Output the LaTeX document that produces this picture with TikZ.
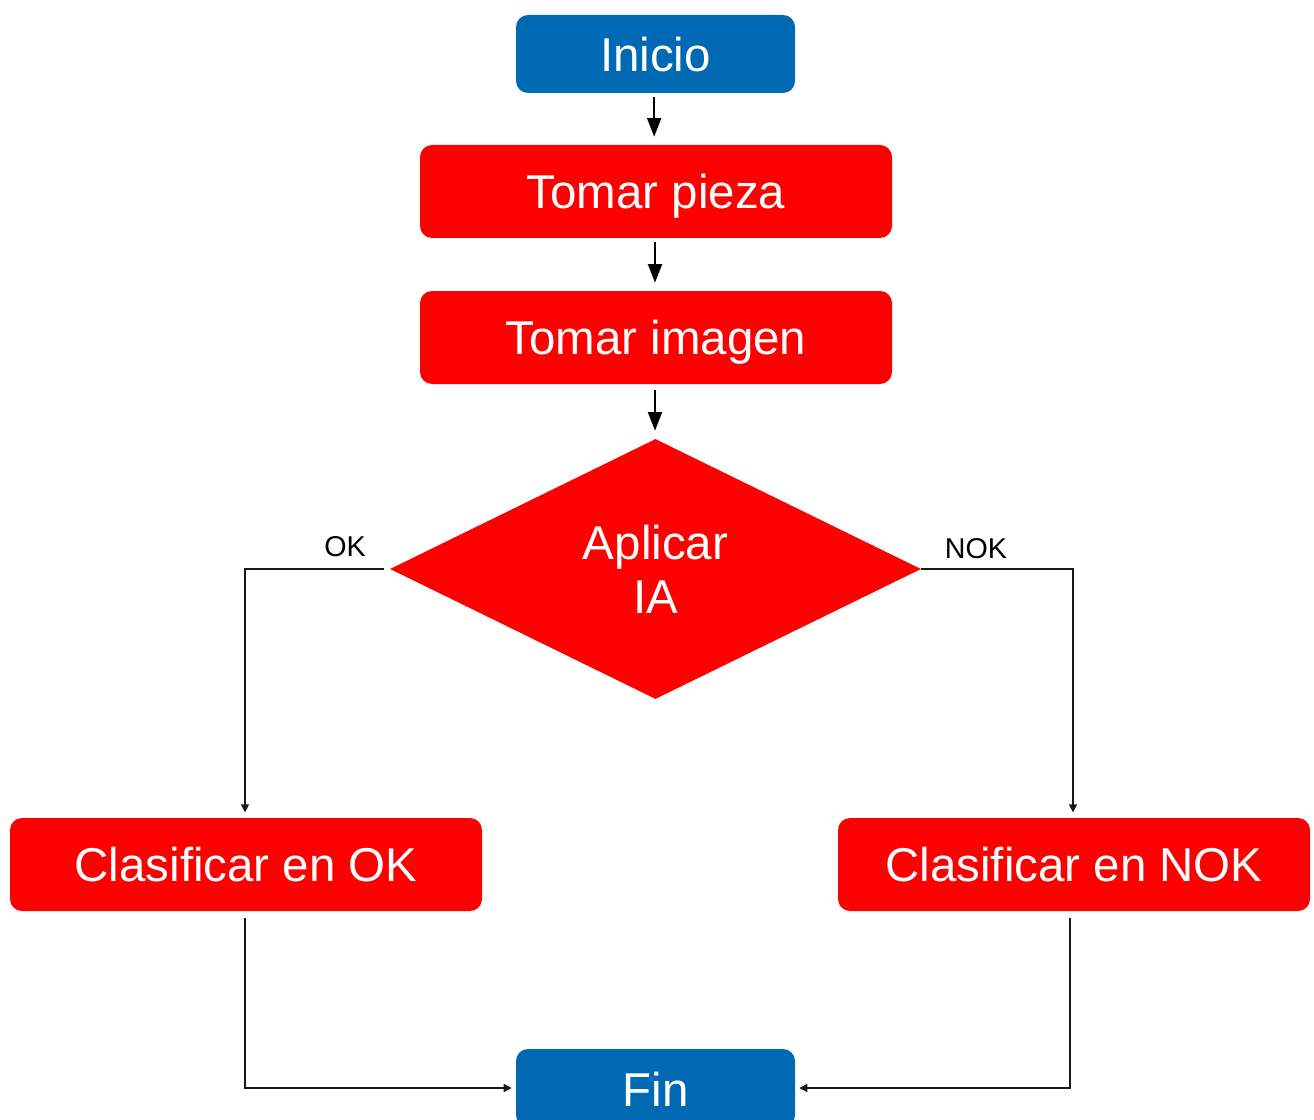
\documentclass[tikz,border=0pt]{standalone}
\usepackage{fontspec}
\setmainfont{Liberation Sans}
\usetikzlibrary{shapes.geometric,arrows.meta}
\definecolor{flowblue}{RGB}{0,105,180}
\definecolor{flowred}{RGB}{255,0,0}
\begin{document}
\begin{tikzpicture}[x=0.75pt,y=-0.75pt,
  bigfont/.style={font=\fontsize{35.6pt}{40.5pt}\selectfont},
  termbox/.style={rectangle,rounded corners=9pt,fill=flowblue,text=white,bigfont,
    minimum width=209.25pt,minimum height=58.5pt,inner sep=0pt,text height=27pt,text depth=0pt},
  procbox/.style={rectangle,rounded corners=9pt,fill=flowred,text=white,bigfont,
    minimum width=354pt,minimum height=69.75pt,inner sep=0pt,text height=25.5pt,text depth=0pt},
  decbox/.style={diamond,fill=flowred,text=white,bigfont,aspect=2.04,
    minimum width=398.25pt,minimum height=195pt,inner sep=0pt,align=center},
  flowarrow/.style={draw=black,line width=1.5pt,-{Triangle[width=10.5pt,length=14pt]}},
  thinarrow/.style={draw=black!90,line width=1pt,-{Triangle[width=6pt,length=6pt]}},
  branchlabel/.style={font=\fontsize{21.5pt}{24pt}\selectfont,text=black,inner sep=0pt}
]
\clip (0,0) rectangle (1314,1120);
\useasboundingbox (0,0) rectangle (1314,1120);
\node[termbox] (inicio) at (655.5,54) {Inicio};
\node[procbox] (pieza) at (656,191.5) {Tomar pieza};
\node[procbox] (imagen) at (656,337.5) {Tomar imagen};
\node[decbox] (ia) at (655.5,569) {Aplicar\\IA};
\node[procbox] (okbox) at (246,864.5) {Clasificar en OK};
\node[procbox] (nokbox) at (1074,864.5) {Clasificar en NOK};
\node[termbox] (fin) at (655.5,1088) {Fin};
\node[branchlabel] (oklabel) at (345,547) {OK};
\node[branchlabel] (noklabel) at (976,549) {NOK};
\draw[flowarrow,shorten <=3pt,shorten >=6pt] ([xshift=-1pt]inicio.south) -- ([xshift=-1pt]inicio.south |- pieza.north);
\draw[flowarrow,shorten <=3pt,shorten >=6pt] ([xshift=-0.75pt]pieza.south) -- ([xshift=-0.75pt]imagen.north);
\draw[flowarrow,shorten <=4pt,shorten >=6pt] ([xshift=-0.75pt]imagen.south) -- ([xshift=-0.75pt]imagen.south |- ia.north);
\draw[thinarrow,shorten <=4pt,shorten >=4pt] (ia.west) -| ([xshift=-0.75pt]okbox.north);
\draw[thinarrow,shorten <=0pt,shorten >=4pt] (ia.east) -| ([xshift=-0.75pt]nokbox.north);
\draw[thinarrow,shorten <=5pt,shorten >=3pt] ([xshift=-0.75pt]okbox.south) |- (fin.west);
\draw[thinarrow,shorten <=5pt,shorten >=3pt] ([xshift=-3pt]nokbox.south) |- (fin.east);
\end{tikzpicture}
\end{document}
